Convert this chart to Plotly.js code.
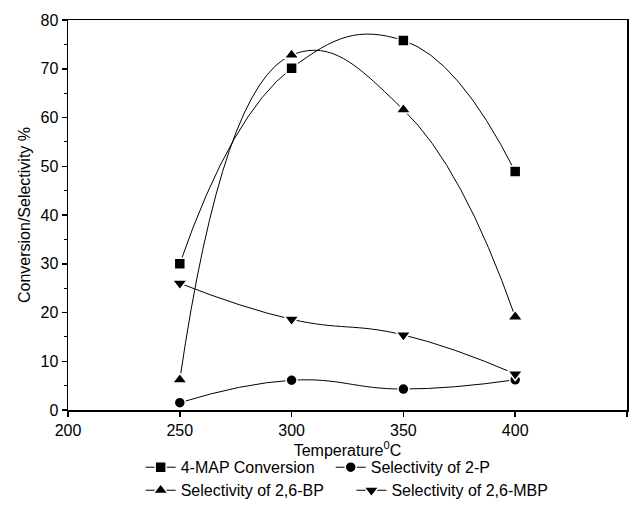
<!DOCTYPE html>
<html>
<head>
<meta charset="utf-8">
<script src="https://cdn.plot.ly/plotly-3.0.1.min.js"></script>
<style>html,body{margin:0;padding:0;background:#fff;}#chart{width:640px;height:513px;}</style>
</head>
<body>
<div id="chart"></div>
<script>
const temperature = [250, 300, 350, 400];
const mapConversion = [30.0, 70.1, 75.8, 48.9];
const selectivity2P = [1.5, 6.1, 4.3, 6.2];
const selectivity26BP = [6.2, 72.8, 61.6, 19.1];
const selectivity26MBP = [26.0, 18.6, 15.4, 7.4];
const seriesNames = ["4-MAP Conversion", "Selectivity of 2-P", "Selectivity of 2,6-BP", "Selectivity of 2,6-MBP"];
const xTicks = [200, 250, 300, 350, 400, 450];
const yTicks = [0, 10, 20, 30, 40, 50, 60, 70, 80];

const FONT = "Liberation Sans, Arial, sans-serif";
function tr(y, name, symbol, size, legend) {
  return {
    x: temperature, y: y, name: name, type: "scatter", mode: "lines+markers",
    line: {color: "#000", width: 1, shape: "spline", smoothing: 1.3},
    marker: {symbol: symbol, size: size, color: "#000", line: {color: "#fff", width: 1.5}},
    legend: legend
  };
}
const data = [
  tr(mapConversion, seriesNames[0], "square", 11, "legend"),
  tr(selectivity2P, seriesNames[1], "circle", 11, "legend2"),
  tr(selectivity26BP, seriesNames[2], "triangle-up", 13, "legend3"),
  tr(selectivity26MBP, seriesNames[3], "triangle-down", 13, "legend4")
];
function leg(x, y) {
  return {x: x, y: y, xanchor: "left", yanchor: "middle", orientation: "h",
    font: {family: FONT, size: 16, color: "#000"}, bgcolor: "rgba(0,0,0,0)",
    borderwidth: 0, itemwidth: 30, tracegroupgap: 0};
}
const layout = {
  width: 640, height: 513,
  margin: {l: 68, r: 13, t: 20, b: 102.5, autoexpand: false},
  paper_bgcolor: "#fff", plot_bgcolor: "#fff",
  font: {family: FONT, size: 16, color: "#000"},
  showlegend: true,
  legend: leg(0.13, -0.147),
  legend2: leg(0.47, -0.147),
  legend3: leg(0.13, -0.206),
  legend4: leg(0.507, -0.206),
  xaxis: {
    range: [200, 450], tickvals: xTicks, ticktext: xTicks.map(String),
    ticks: "outside", ticklen: 5, tickwidth: 1.5, tickcolor: "#000",
    showline: true, linecolor: "#000", linewidth: 1.5, mirror: true,
    showgrid: false, zeroline: false, automargin: false,
    tickfont: {family: FONT, size: 16, color: "#000"},
    title: {text: "Temperature<sup>0</sup>C", font: {family: FONT, size: 16, color: "#000"}, standoff: 7}
  },
  yaxis: {
    range: [0, 80], tickvals: yTicks, ticktext: yTicks.map(String),
    ticks: "outside", ticklen: 5, tickwidth: 1.5, tickcolor: "#000",
    minor: {dtick: 5, ticks: "outside", ticklen: 3, tickwidth: 1, tickcolor: "#000", showgrid: false},
    showline: true, linecolor: "#000", linewidth: 1.5, mirror: true,
    showgrid: false, zeroline: false, automargin: false,
    tickfont: {family: FONT, size: 16, color: "#000"},
    title: {text: "Conversion/Selectivity %", font: {family: FONT, size: 16, color: "#000"}, standoff: 6}
  }
};
Plotly.newPlot("chart", data, layout, {displayModeBar: false, staticPlot: true});
</script>
</body>
</html>
